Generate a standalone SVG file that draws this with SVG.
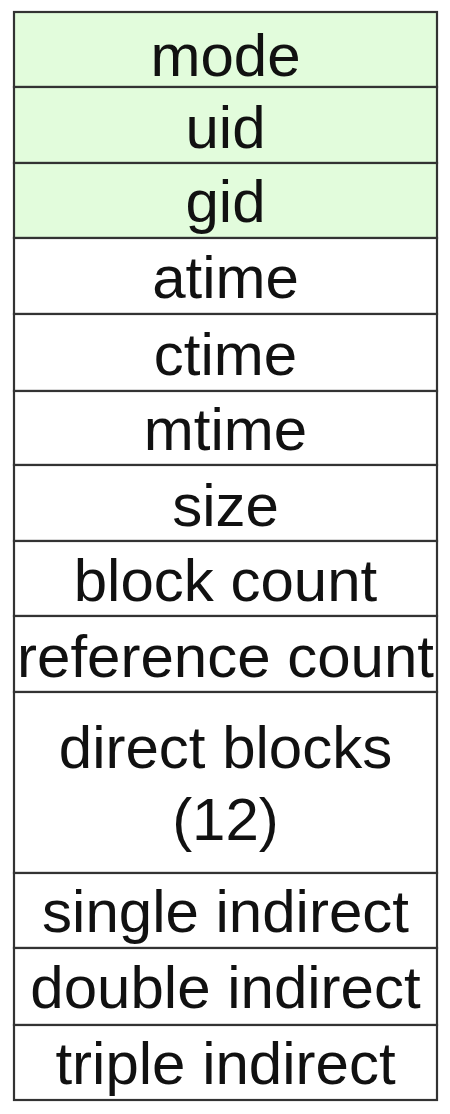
<svg xmlns="http://www.w3.org/2000/svg" width="450" height="1114" viewBox="0 0 450 1114">
  <style>
    .cell { stroke: #333333; stroke-width: 2.2; }
    .id { fill: #e2fcdc; }
    .plain { fill: #ffffff; }
    .label { font-family: "Liberation Sans", Arial, sans-serif; font-size: 60px; fill: #111111; text-anchor: middle; }
  </style>
  <rect width="450" height="1114" fill="#ffffff"/>
  <!-- inode fields, one row each -->
  <g id="mode"><rect class="cell id" x="14" y="12" width="423" height="75"/><text class="label" x="225.5" y="76">mode</text></g>
  <g id="uid"><rect class="cell id" x="14" y="87" width="423" height="76"/><text class="label" x="225.5" y="148">uid</text></g>
  <g id="gid"><rect class="cell id" x="14" y="163" width="423" height="75"/><text class="label" x="225.5" y="222">gid</text></g>
  <g id="atime"><rect class="cell plain" x="14" y="238" width="423" height="76"/><text class="label" x="225.5" y="298">atime</text></g>
  <g id="ctime"><rect class="cell plain" x="14" y="314" width="423" height="77"/><text class="label" x="225.5" y="375">ctime</text></g>
  <g id="mtime"><rect class="cell plain" x="14" y="391" width="423" height="74"/><text class="label" x="225.5" y="450">mtime</text></g>
  <g id="size"><rect class="cell plain" x="14" y="465" width="423" height="76"/><text class="label" x="225.5" y="526">size</text></g>
  <g id="block-count"><rect class="cell plain" x="14" y="541" width="423" height="75"/><text class="label" x="225.5" y="601">block count</text></g>
  <g id="reference-count"><rect class="cell plain" x="14" y="616" width="423" height="76"/><text class="label" x="225.5" y="677">reference count</text></g>
  <g id="direct-blocks"><rect class="cell plain" x="14" y="692" width="423" height="181"/><text class="label" x="225.5" y="768">direct blocks</text><text class="label" x="225.5" y="840">(12)</text></g>
  <g id="single-indirect"><rect class="cell plain" x="14" y="873" width="423" height="75"/><text class="label" x="225.5" y="932">single indirect</text></g>
  <g id="double-indirect"><rect class="cell plain" x="14" y="948" width="423" height="77"/><text class="label" x="225.5" y="1008">double indirect</text></g>
  <g id="triple-indirect"><rect class="cell plain" x="14" y="1025" width="423" height="75"/><text class="label" x="225.5" y="1084">triple indirect</text></g>
  <g id="connectors"/>
</svg>
